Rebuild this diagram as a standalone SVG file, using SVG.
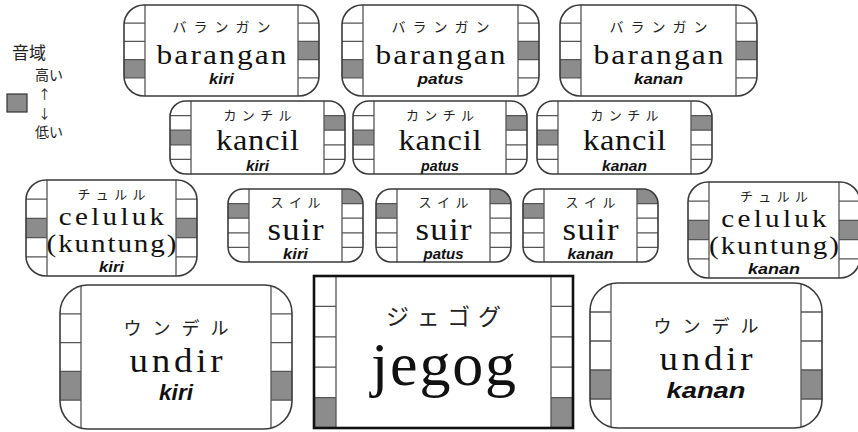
<svg xmlns="http://www.w3.org/2000/svg" width="858" height="432" viewBox="0 0 858 432">
<style>
.bg{fill:#fff}
.sh{fill:#8c8c8c}
.ln{stroke:#555;stroke-width:1.3;fill:none}
.ol{fill:none;stroke:#3a3a3a;stroke-width:1.6}
.olj{fill:none;stroke:#111;stroke-width:2.6}
.kana{font-family:"Noto Sans CJK JP","Noto Sans",sans-serif;fill:#222;text-anchor:middle}
.lat{font-family:"Liberation Serif",serif;fill:#111;text-anchor:middle}
.sub{font-family:"Liberation Sans",Arial,sans-serif;font-weight:bold;font-style:italic;fill:#111;text-anchor:middle}
.leg{font-family:"Noto Sans CJK JP","Noto Sans",sans-serif;fill:#222}
</style>
<defs>
<clipPath id="cA"><rect x="124" y="5" width="195" height="91" rx="20"/></clipPath>
<clipPath id="cB"><rect x="342" y="5" width="197" height="91" rx="20"/></clipPath>
<clipPath id="cC"><rect x="560" y="5" width="197" height="91" rx="20"/></clipPath>
<clipPath id="cD"><rect x="170" y="101" width="175" height="73" rx="16"/></clipPath>
<clipPath id="cE"><rect x="353" y="101" width="174" height="73" rx="16"/></clipPath>
<clipPath id="cF"><rect x="537" y="101" width="175" height="73" rx="16"/></clipPath>
<clipPath id="cG"><rect x="26" y="180" width="171" height="96" rx="20"/></clipPath>
<clipPath id="cH"><rect x="688" y="182" width="172" height="96" rx="20"/></clipPath>
<clipPath id="cI"><rect x="228" y="189" width="135" height="73" rx="15"/></clipPath>
<clipPath id="cJ"><rect x="376" y="189" width="135" height="73" rx="15"/></clipPath>
<clipPath id="cK"><rect x="523" y="189" width="135" height="73" rx="15"/></clipPath>
<clipPath id="cL"><rect x="60" y="285" width="232" height="144" rx="28"/></clipPath>
<clipPath id="cM"><rect x="590" y="283" width="232" height="145" rx="28"/></clipPath>
</defs>

<g id="legend">
<text class="leg" x="12" y="59" font-size="17">音域</text>
<text class="leg" x="35" y="80" font-size="14">高い</text>
<text class="leg" x="38" y="99" font-size="13">↑</text>
<text class="leg" x="38" y="118" font-size="13">↓</text>
<text class="leg" x="35" y="137" font-size="14">低い</text>
<rect x="7" y="94" width="20" height="18" fill="#8c8c8c" stroke="#333" stroke-width="1.2"/>
</g>

<g id="connectors"/>

<g id="barangan-kiri">
<g clip-path="url(#cA)">
<rect class="bg" x="124" y="5" width="195" height="91"/>
<rect class="sh" x="124" y="59.6" width="21" height="18.2"/>
<rect class="sh" x="298" y="41.4" width="21" height="18.2"/>
<path class="ln" d="M145 5V96M298 5V96M124 23.2H145M124 41.4H145M124 59.6H145M124 77.8H145M298 23.2H319M298 41.4H319M298 59.6H319M298 77.8H319"/>
</g>
<rect class="ol" x="124" y="5" width="195" height="91" rx="20"/>
<text class="kana" x="221.5" y="32" font-size="14" textLength="98">バランガン</text>
<g transform="translate(221.5 0) scale(1.12 1)"><text class="lat" x="0" y="64" font-size="28" textLength="116">barangan</text></g>
<text class="sub" x="221.5" y="84" font-size="15" textLength="25" lengthAdjust="spacingAndGlyphs">kiri</text>
</g>

<g id="barangan-patus">
<g clip-path="url(#cB)">
<rect class="bg" x="342" y="5" width="197" height="91"/>
<rect class="sh" x="342" y="59.6" width="21" height="18.2"/>
<rect class="sh" x="518" y="41.4" width="21" height="18.2"/>
<path class="ln" d="M363 5V96M518 5V96M342 23.2H363M342 41.4H363M342 59.6H363M342 77.8H363M518 23.2H539M518 41.4H539M518 59.6H539M518 77.8H539"/>
</g>
<rect class="ol" x="342" y="5" width="197" height="91" rx="20"/>
<text class="kana" x="440.5" y="32" font-size="14" textLength="98">バランガン</text>
<g transform="translate(440.5 0) scale(1.12 1)"><text class="lat" x="0" y="64" font-size="28" textLength="116">barangan</text></g>
<text class="sub" x="440.5" y="84" font-size="15" textLength="46" lengthAdjust="spacingAndGlyphs">patus</text>
</g>

<g id="barangan-kanan">
<g clip-path="url(#cC)">
<rect class="bg" x="560" y="5" width="197" height="91"/>
<rect class="sh" x="560" y="59.6" width="21" height="18.2"/>
<rect class="sh" x="736" y="41.4" width="21" height="18.2"/>
<path class="ln" d="M581 5V96M736 5V96M560 23.2H581M560 41.4H581M560 59.6H581M560 77.8H581M736 23.2H757M736 41.4H757M736 59.6H757M736 77.8H757"/>
</g>
<rect class="ol" x="560" y="5" width="197" height="91" rx="20"/>
<text class="kana" x="658.5" y="32" font-size="14" textLength="98">バランガン</text>
<g transform="translate(658.5 0) scale(1.12 1)"><text class="lat" x="0" y="64" font-size="28" textLength="116">barangan</text></g>
<text class="sub" x="658.5" y="84" font-size="15" textLength="49" lengthAdjust="spacingAndGlyphs">kanan</text>
</g>

<g id="kancil-kiri">
<g clip-path="url(#cD)">
<rect class="bg" x="170" y="101" width="175" height="73"/>
<rect class="sh" x="170" y="130.2" width="21" height="14.6"/>
<rect class="sh" x="324" y="115.6" width="21" height="14.6"/>
<path class="ln" d="M191 101V174M324 101V174M170 115.6H191M170 130.2H191M170 144.8H191M170 159.4H191M324 115.6H345M324 130.2H345M324 144.8H345M324 159.4H345"/>
</g>
<rect class="ol" x="170" y="101" width="175" height="73" rx="16"/>
<text class="kana" x="257.5" y="120" font-size="13" textLength="68">カンチル</text>
<g transform="translate(257.5 0) scale(1.12 1)"><text class="lat" x="0" y="150" font-size="29" textLength="74">kancil</text></g>
<text class="sub" x="257.5" y="171" font-size="14" textLength="23" lengthAdjust="spacingAndGlyphs">kiri</text>
</g>

<g id="kancil-patus">
<g clip-path="url(#cE)">
<rect class="bg" x="353" y="101" width="174" height="73"/>
<rect class="sh" x="353" y="130.2" width="21" height="14.6"/>
<rect class="sh" x="506" y="115.6" width="21" height="14.6"/>
<path class="ln" d="M374 101V174M506 101V174M353 115.6H374M353 130.2H374M353 144.8H374M353 159.4H374M506 115.6H527M506 130.2H527M506 144.8H527M506 159.4H527"/>
</g>
<rect class="ol" x="353" y="101" width="174" height="73" rx="16"/>
<text class="kana" x="440" y="120" font-size="13" textLength="68">カンチル</text>
<g transform="translate(440 0) scale(1.12 1)"><text class="lat" x="0" y="150" font-size="29" textLength="74">kancil</text></g>
<text class="sub" x="440" y="171" font-size="14" textLength="38" lengthAdjust="spacingAndGlyphs">patus</text>
</g>

<g id="kancil-kanan">
<g clip-path="url(#cF)">
<rect class="bg" x="537" y="101" width="175" height="73"/>
<rect class="sh" x="537" y="130.2" width="21" height="14.6"/>
<rect class="sh" x="691" y="115.6" width="21" height="14.6"/>
<path class="ln" d="M558 101V174M691 101V174M537 115.6H558M537 130.2H558M537 144.8H558M537 159.4H558M691 115.6H712M691 130.2H712M691 144.8H712M691 159.4H712"/>
</g>
<rect class="ol" x="537" y="101" width="175" height="73" rx="16"/>
<text class="kana" x="624.5" y="120" font-size="13" textLength="68">カンチル</text>
<g transform="translate(624.5 0) scale(1.12 1)"><text class="lat" x="0" y="150" font-size="29" textLength="74">kancil</text></g>
<text class="sub" x="624.5" y="171" font-size="14" textLength="45" lengthAdjust="spacingAndGlyphs">kanan</text>
</g>

<g id="celuluk-kiri">
<g clip-path="url(#cG)">
<rect class="bg" x="26" y="180" width="171" height="96"/>
<rect class="sh" x="26" y="218.4" width="21" height="19.2"/>
<rect class="sh" x="176" y="218.4" width="21" height="19.2"/>
<path class="ln" d="M47 180V276M176 180V276M26 199.2H47M26 218.4H47M26 237.6H47M26 256.8H47M176 199.2H197M176 218.4H197M176 237.6H197M176 256.8H197"/>
</g>
<rect class="ol" x="26" y="180" width="171" height="96" rx="20"/>
<text class="kana" x="111.5" y="199" font-size="13" textLength="68">チュルル</text>
<g transform="translate(111.5 0) scale(1.12 1)">
<text class="lat" x="0" y="225" font-size="26" textLength="94">celuluk</text>
<text class="lat" x="0" y="252" font-size="26" textLength="116">(kuntung)</text>
</g>
<text class="sub" x="111.5" y="272" font-size="14" textLength="25" lengthAdjust="spacingAndGlyphs">kiri</text>
</g>

<g id="celuluk-kanan">
<g clip-path="url(#cH)">
<rect class="bg" x="688" y="182" width="172" height="96"/>
<rect class="sh" x="688" y="220.4" width="21" height="19.2"/>
<rect class="sh" x="839" y="220.4" width="21" height="19.2"/>
<path class="ln" d="M709 182V278M839 182V278M688 201.2H709M688 220.4H709M688 239.6H709M688 258.8H709M839 201.2H860M839 220.4H860M839 239.6H860M839 258.8H860"/>
</g>
<rect class="ol" x="688" y="182" width="172" height="96" rx="20"/>
<text class="kana" x="774" y="201" font-size="13" textLength="68">チュルル</text>
<g transform="translate(774 0) scale(1.12 1)">
<text class="lat" x="0" y="227" font-size="26" textLength="94">celuluk</text>
<text class="lat" x="0" y="254" font-size="26" textLength="116">(kuntung)</text>
</g>
<text class="sub" x="774" y="274" font-size="14" textLength="52" lengthAdjust="spacingAndGlyphs">kanan</text>
</g>

<g id="suir-kiri">
<g clip-path="url(#cI)">
<rect class="bg" x="228" y="189" width="135" height="73"/>
<rect class="sh" x="228" y="203.6" width="21" height="14.6"/>
<rect class="sh" x="342" y="189" width="21" height="14.6"/>
<path class="ln" d="M249 189V262M342 189V262M228 203.6H249M228 218.2H249M228 232.8H249M228 247.4H249M342 203.6H363M342 218.2H363M342 232.8H363M342 247.4H363"/>
</g>
<rect class="ol" x="228" y="189" width="135" height="73" rx="15"/>
<text class="kana" x="295.5" y="207" font-size="13" textLength="50">スイル</text>
<g transform="translate(295.5 0) scale(1.12 1)"><text class="lat" x="0" y="240" font-size="31" textLength="50">suir</text></g>
<text class="sub" x="295.5" y="259" font-size="14" textLength="25" lengthAdjust="spacingAndGlyphs">kiri</text>
</g>

<g id="suir-patus">
<g clip-path="url(#cJ)">
<rect class="bg" x="376" y="189" width="135" height="73"/>
<rect class="sh" x="376" y="203.6" width="21" height="14.6"/>
<rect class="sh" x="490" y="189" width="21" height="14.6"/>
<path class="ln" d="M397 189V262M490 189V262M376 203.6H397M376 218.2H397M376 232.8H397M376 247.4H397M490 203.6H511M490 218.2H511M490 232.8H511M490 247.4H511"/>
</g>
<rect class="ol" x="376" y="189" width="135" height="73" rx="15"/>
<text class="kana" x="443.5" y="207" font-size="13" textLength="50">スイル</text>
<g transform="translate(443.5 0) scale(1.12 1)"><text class="lat" x="0" y="240" font-size="31" textLength="50">suir</text></g>
<text class="sub" x="443.5" y="259" font-size="14" textLength="40" lengthAdjust="spacingAndGlyphs">patus</text>
</g>

<g id="suir-kanan">
<g clip-path="url(#cK)">
<rect class="bg" x="523" y="189" width="135" height="73"/>
<rect class="sh" x="523" y="203.6" width="21" height="14.6"/>
<rect class="sh" x="637" y="189" width="21" height="14.6"/>
<path class="ln" d="M544 189V262M637 189V262M523 203.6H544M523 218.2H544M523 232.8H544M523 247.4H544M637 203.6H658M637 218.2H658M637 232.8H658M637 247.4H658"/>
</g>
<rect class="ol" x="523" y="189" width="135" height="73" rx="15"/>
<text class="kana" x="590.5" y="207" font-size="13" textLength="50">スイル</text>
<g transform="translate(590.5 0) scale(1.12 1)"><text class="lat" x="0" y="240" font-size="31" textLength="50">suir</text></g>
<text class="sub" x="590.5" y="259" font-size="14" textLength="46" lengthAdjust="spacingAndGlyphs">kanan</text>
</g>

<g id="undir-kiri">
<g clip-path="url(#cL)">
<rect class="bg" x="60" y="285" width="232" height="144"/>
<rect class="sh" x="60" y="371.4" width="21" height="28.8"/>
<rect class="sh" x="271" y="371.4" width="21" height="28.8"/>
<path class="ln" d="M81 285V429M271 285V429M60 313.8H81M60 342.6H81M60 371.4H81M60 400.2H81M271 313.8H292M271 342.6H292M271 371.4H292M271 400.2H292"/>
</g>
<rect class="ol" x="60" y="285" width="232" height="144" rx="28"/>
<text class="kana" x="176" y="335" font-size="18" textLength="105">ウンデル</text>
<g transform="translate(176 0) scale(1.12 1)"><text class="lat" x="0" y="372" font-size="33" textLength="83">undir</text></g>
<text class="sub" x="176" y="400" font-size="22" textLength="34" lengthAdjust="spacingAndGlyphs">kiri</text>
</g>

<g id="jegog">
<rect class="bg" x="314" y="276" width="259" height="152"/>
<rect class="sh" x="314" y="397.6" width="22" height="30.4"/>
<rect class="sh" x="551" y="397.6" width="22" height="30.4"/>
<path class="ln" d="M336 276V428M551 276V428M314 306.4H336M314 336.8H336M314 367.2H336M314 397.6H336M551 306.4H573M551 336.8H573M551 367.2H573M551 397.6H573"/>
<rect class="olj" x="314" y="276" width="259" height="152"/>
<text class="kana" x="443.5" y="325" font-size="23" textLength="115">ジェゴグ</text>
<text class="lat" x="443.5" y="385" font-size="62" textLength="145">jegog</text>
</g>

<g id="undir-kanan">
<g clip-path="url(#cM)">
<rect class="bg" x="590" y="283" width="232" height="145"/>
<rect class="sh" x="590" y="370" width="21" height="29"/>
<rect class="sh" x="801" y="370" width="21" height="29"/>
<path class="ln" d="M611 283V428M801 283V428M590 312H611M590 341H611M590 370H611M590 399H611M801 312H822M801 341H822M801 370H822M801 399H822"/>
</g>
<rect class="ol" x="590" y="283" width="232" height="145" rx="28"/>
<text class="kana" x="706" y="333" font-size="18" textLength="105">ウンデル</text>
<g transform="translate(706 0) scale(1.12 1)"><text class="lat" x="0" y="370" font-size="33" textLength="83">undir</text></g>
<text class="sub" x="706" y="398" font-size="22" textLength="79" lengthAdjust="spacingAndGlyphs">kanan</text>
</g>
</svg>
